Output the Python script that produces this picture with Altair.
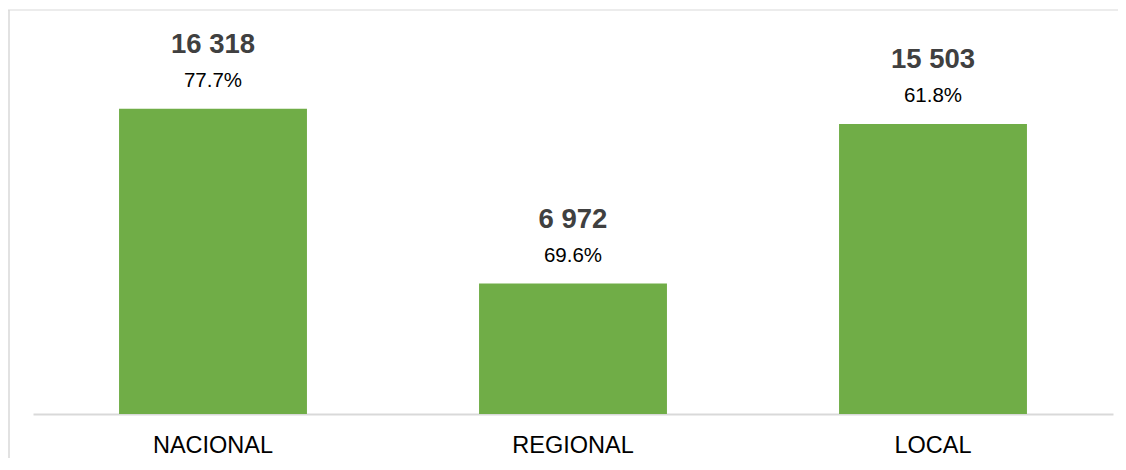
import altair as alt
import pandas as pd

categories = ["NACIONAL", "REGIONAL", "LOCAL"]
values = [16318, 6972, 15503]
value_labels = ["16 318", "6 972", "15 503"]
pct_labels = ["77.7%", "69.6%", "61.8%"]

df = pd.DataFrame({"cat": categories, "value": values,
                   "vlabel": value_labels, "plabel": pct_labels})

FONT = "Liberation Sans"

x_enc = alt.X("cat:N", sort=categories,
              scale=alt.Scale(paddingInner=0.478, paddingOuter=0.239),
              axis=alt.Axis(title=None, labelAngle=0, ticks=False,
                            domainColor="#D9D9D9", domainWidth=2,
                            labelFont=FONT, labelFontSize=23.5, labelColor="#000000",
                            labelPadding=19))
y_enc = alt.Y("value:Q", scale=alt.Scale(domain=[0, 20000]), axis=None)

base = alt.Chart(df)

bars = base.mark_bar(color="#70AD47").encode(x=x_enc, y=y_enc)

nums = base.mark_text(font=FONT, fontSize=27.5, fontWeight="bold", color="#404040",
                      dy=-64, baseline="middle").encode(
    x=alt.X("cat:N", sort=categories), y=y_enc, text="vlabel:N")

pcts = base.mark_text(font=FONT, fontSize=20.5, color="#000000",
                      dy=-28, baseline="middle").encode(
    x=alt.X("cat:N", sort=categories), y=y_enc, text="plabel:N")

frame_df = pd.DataFrame({"k": [0]})
frame_top = alt.Chart(frame_df).mark_rule(color="#D9D9D9", strokeWidth=1.2).encode(
    x=alt.value(-25), x2=alt.value(1085), y=alt.value(-30))
frame_left = alt.Chart(frame_df).mark_rule(color="#D9D9D9", strokeWidth=1.5).encode(
    x=alt.value(-24), y=alt.value(-30), y2=alt.value(418))

chart = alt.layer(frame_top, frame_left, bars, nums, pcts).properties(
    width=1080, height=374,
    autosize=alt.AutoSizeParams(type="none"),
    padding={"left": 25, "top": 32, "right": 5, "bottom": 44},
).configure_view(strokeWidth=0)

chart.save("out.html", embed_options={"renderer": "svg", "actions": False})
